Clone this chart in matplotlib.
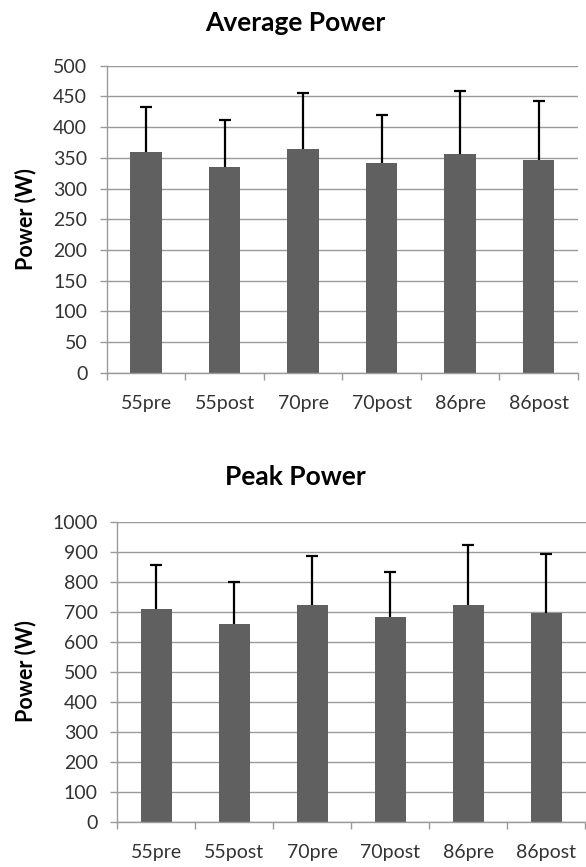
import numpy as np
import matplotlib
matplotlib.use("Agg")
import matplotlib.pyplot as plt

# data
groups = ['55pre', '55post', '70pre', '70post', '86pre', '86post']
avg_power = [359, 335, 365, 342, 357, 346]
avg_sd = [73, 77, 91, 78, 102, 96]
peak_power = [708, 661, 722, 682, 722, 695]
peak_sd = [148, 137, 165, 151, 199, 198]

plt.rcParams['font.family'] = ['Lato', 'DejaVu Sans']
bar_color = '#606060'
grid_color = '#9a9a9a'

fig = plt.figure(figsize=(5.86, 8.67), dpi=100)


def draw(ax, vals, sd, ymax, step, xright):
    x = np.arange(len(groups))
    ax.set_axisbelow(True)
    ax.grid(True, axis='y', color=grid_color, linewidth=1)
    ax.bar(x, vals, 0.4, color=bar_color, zorder=2)
    # upper error only, hide the lower cap
    eb = ax.errorbar(x, vals, yerr=[np.zeros(len(sd)), sd], fmt='none', ecolor='black',
                     elinewidth=1.6, capsize=4.5, capthick=1.6, zorder=3)
    eb[1][0].set_visible(False)
    ax.set_ylim(0, ymax)
    ax.set_yticks(np.arange(0, ymax + 1, step))
    ax.set_xlim(-0.5, xright)
    ax.set_xticks(x)
    ax.set_xticklabels(groups)
    ax.set_xticks(np.arange(-0.5, len(groups), 1.0), minor=True)
    ax.tick_params(axis='x', which='major', length=0, pad=16, labelsize=14, colors='#333333')
    ax.tick_params(axis='x', which='minor', length=5, width=1, color=grid_color)
    ax.tick_params(axis='y', length=5, width=1, color=grid_color, pad=9, labelsize=14,
                   labelcolor='#333333')
    for s in ['top', 'right']:
        ax.spines[s].set_visible(False)
    for s in ['left', 'bottom']:
        ax.spines[s].set_color(grid_color)
        ax.spines[s].set_linewidth(1)


ax1 = fig.add_axes([0.1821, 0.5701, 0.8043, 0.3541])
draw(ax1, avg_power, avg_sd, 500, 50, 5.43)
ax2 = fig.add_axes([0.2002, 0.0516, 0.7998, 0.3467])
draw(ax2, peak_power, peak_sd, 1000, 100, 5.51)

fig.text(295.5 / 586, 1 - 23 / 867, 'Average Power', ha='center', va='center',
         fontsize=19, fontweight='bold')
fig.text(295.5 / 586, 1 - 477.5 / 867, 'Peak Power', ha='center', va='center',
         fontsize=19, fontweight='bold')
fig.text(26 / 586, 1 - 219 / 867, 'Power (W)', rotation=90, ha='center', va='center',
         fontsize=15.5, fontweight='bold')
fig.text(26 / 586, 1 - 671 / 867, 'Power (W)', rotation=90, ha='center', va='center',
         fontsize=15.5, fontweight='bold')

fig.savefig('out.png', dpi=100)
